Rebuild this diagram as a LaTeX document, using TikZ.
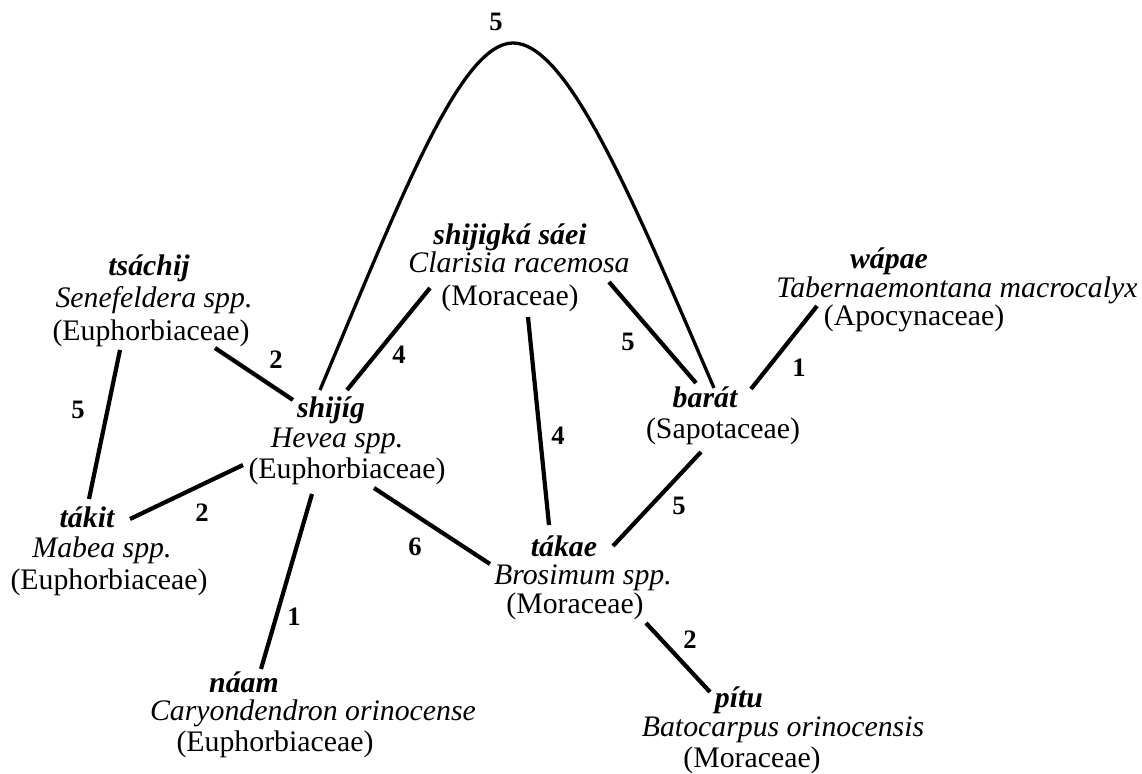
\documentclass[tikz,border=0pt]{standalone}
\usepackage{fontspec}
\setmainfont{Liberation Serif}
\usetikzlibrary{calc}
\begin{document}
\begin{tikzpicture}[x=0.5pt,y=-0.5pt,
  vern/.style={inner sep=0pt,anchor=base,font=\fontsize{14.9}{16}\selectfont\bfseries\itshape},
  taxon/.style={inner sep=0pt,anchor=base,font=\fontsize{14.9}{16}\selectfont\itshape},
  family/.style={inner sep=0pt,anchor=base,font=\fontsize{14.9}{16}\selectfont},
  weight/.style={inner sep=0pt,font=\fontsize{13.3}{14}\selectfont\bfseries},
  link/.style={line width=2.1pt},
  bow/.style={line width=1.65pt}]
\fill[white] (0,0) rectangle (1142,774);
\useasboundingbox (0,0) rectangle (1142,774);

% plant names: vernacular, scientific, family
\node[vern]   (tsachij)     at (149,276) {tsáchij};
\node[taxon]  (tsachij-sp)  at (154,308) {Senefeldera spp.};
\node[family] (tsachij-fam) at (151,341) {(Euphorbiaceae)};

\node[vern]   (shijigka)     at (510,245) {shijigká sáei};
\node[taxon]  (shijigka-sp)  at (519,273) {Clarisia racemosa};
\node[family] (shijigka-fam) at (510,306) {(Moraceae)};

\node[vern]   (wapae)     at (889,269) {wápae};
\node[taxon]  (wapae-sp)  at (957,298) {Tabernaemontana macrocalyx};
\node[family] (wapae-fam) at (914,326) {(Apocynaceae)};

\node[vern]   (shijig)     at (331,418) {shijíg};
\node[taxon]  (shijig-sp)  at (337,448) {Hevea spp.};
\node[family] (shijig-fam) at (347,479) {(Euphorbiaceae)};

\node[vern]   (barat)     at (705,408) {barát};
\node[family] (barat-fam) at (723,439) {(Sapotaceae)};

\node[vern]   (takit)     at (87,528)  {tákit};
\node[taxon]  (takit-sp)  at (102,558) {Mabea spp.};
\node[family] (takit-fam) at (109,590) {(Euphorbiaceae)};

\node[vern]   (takae)     at (564,557) {tákae};
\node[taxon]  (takae-sp)  at (583,585) {Brosimum spp.};
\node[family] (takae-fam) at (575,614) {(Moraceae)};

\node[vern]   (naam)     at (244,693) {náam};
\node[taxon]  (naam-sp)  at (313,721) {Caryondendron orinocense};
\node[family] (naam-fam) at (275,752) {(Euphorbiaceae)};

\node[vern]   (pitu)     at (739,708) {pítu};
\node[taxon]  (pitu-sp)  at (783,737) {Batocarpus orinocensis};
\node[family] (pitu-fam) at (752,768) {(Moraceae)};

% links between names
\draw[link] ($(tsachij-fam.base)+(-31,9)$) -- ($(takit.base)+(2,-29)$);
\draw[link] ($(tsachij-fam.base)+(64,7)$) -- ($(shijig.base)+(-38,-18)$);
\draw[link] ($(shijigka-fam.base)+(-80,-18)$) -- ($(shijig.base)+(16,-28)$);
\draw[link] ($(shijigka-sp.base)+(90,9)$) -- ($(barat.base)+(-9,-25)$);
\draw[link] ($(barat.base)+(46,-19)$) -- ($(wapae-fam.base)+(-97,-20)$);
\draw[link] ($(shijigka-fam.base)+(18,11)$) -- ($(takae.base)+(-15,-32)$);
\draw[link] ($(takit.base)+(43,-9)$) -- ($(shijig-fam.base)+(-104,-14)$);
\draw[link] ($(shijig-fam.base)+(-35,15)$) -- ($(naam.base)+(17,-24)$);
\draw[link] ($(shijig-fam.base)+(27,9)$) -- ($(takae-sp.base)+(-93,-21)$);
\draw[link] ($(barat-fam.base)+(-22,13)$) -- ($(takae.base)+(49,-11)$);
\draw[link] ($(takae-fam.base)+(71,9)$) -- ($(pitu.base)+(-29,-16)$);

% the long bow from shijig to barat
\coordinate (apex) at (513,43);
\draw[bow] ($(shijig.base)+(-11,-28)$) .. controls +(80,-190) and +(-53,0) .. (apex)
  .. controls +(55,0) and +(-81,-188) .. ($(barat.base)+(9,-20)$);

% link weights
\node[weight] (w-bow)   at (496,22)  {5};
\node[weight] (w-tk)    at (78,410)  {5};
\node[weight] (w-th)    at (276,360) {2};
\node[weight] (w-sh)    at (399,355) {4};
\node[weight] (w-sb)    at (628,342) {5};
\node[weight] (w-bw)    at (799,368) {1};
\node[weight] (w-sa)    at (558,436) {4};
\node[weight] (w-kh)    at (202,513) {2};
\node[weight] (w-hn)    at (294,617) {1};
\node[weight] (w-ha)    at (415,547) {6};
\node[weight] (w-ba)    at (679,506) {5};
\node[weight] (w-ap)    at (690,640) {2};
\end{tikzpicture}
\end{document}
